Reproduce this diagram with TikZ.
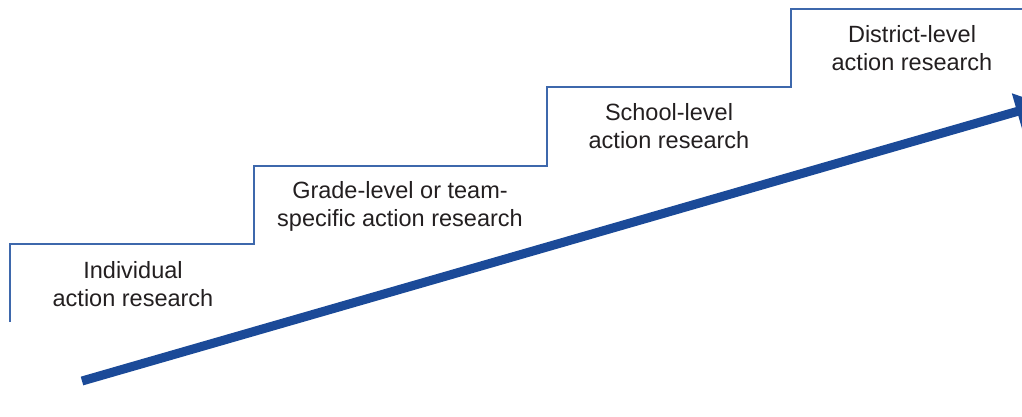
\documentclass[tikz,border=0pt]{standalone}
\usepackage{fontspec}
\setmainfont{Liberation Sans}
\usetikzlibrary{arrows.meta}
\definecolor{stairblue}{RGB}{62,104,172}
\definecolor{arrowblue}{RGB}{27,74,152}
\definecolor{txt}{RGB}{35,31,32}
\tikzset{
  stair/.style={draw=stairblue, line width=1.4pt},
  lbl/.style={align=center, anchor=north, inner sep=0pt, text=txt,
    font=\fontsize{23.5}{28}\selectfont},
  bigarrow/.style={draw=arrowblue, line width=9pt,
    -{Triangle[length=27pt,width=36pt]}}
}
\begin{document}
\begin{tikzpicture}[x=1pt,y=-1pt]
\useasboundingbox (0,0) rectangle (1022,416);
\clip (0,0) rectangle (1022,416);
\coordinate (s0) at (10,322);
\coordinate (s1) at (10,244);
\coordinate (s2) at (254,244);
\coordinate (s3) at (254,166);
\coordinate (s4) at (547,166);
\coordinate (s5) at (547,87);
\coordinate (s6) at (791,87);
\coordinate (s7) at (791,9);
\coordinate (s8) at (1030,9);
\draw[stair] (s0) -- (s1) -- (s2) -- (s3) -- (s4) -- (s5) -- (s6) -- (s7) -- (s8);
\node[lbl] (ind) at (133,261) {Individual\\action research};
\node[lbl] (grade) at (400,181) {Grade-level or team-\\specific action research};
\node[lbl] (school) at (669,103) {School-level\\action research};
\node[lbl] (district) at (912,25) {District-level\\action research};
\coordinate (a0) at (82,381);
\coordinate (a1) at (1043,104);
\draw[bigarrow] (a0) -- (a1);
\end{tikzpicture}
\end{document}
